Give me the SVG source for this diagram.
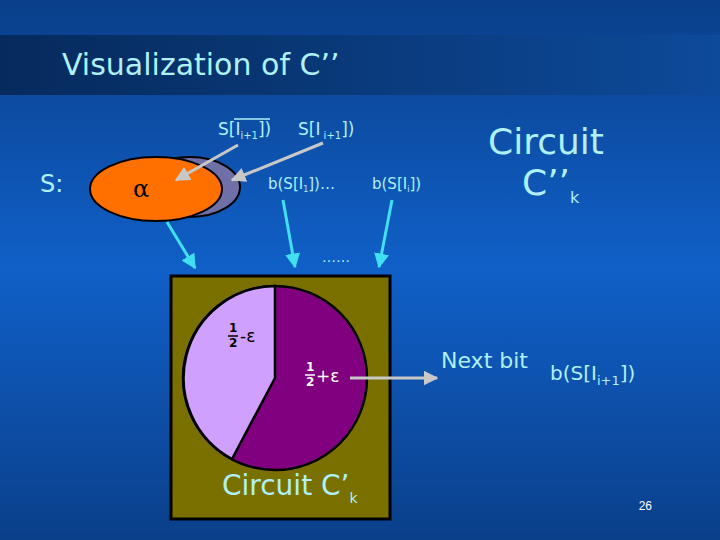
<svg xmlns="http://www.w3.org/2000/svg" width="720" height="540" viewBox="0 0 720 540">
<defs>
<linearGradient id="bg" x1="0" y1="0" x2="0" y2="1"><stop offset="0" stop-color="#0a3f8a"/><stop offset="0.5" stop-color="#1060c8"/><stop offset="1" stop-color="#0a3f8a"/></linearGradient>
<linearGradient id="tb" x1="0" y1="0" x2="1" y2="0"><stop offset="0" stop-color="#062a5c"/><stop offset="1" stop-color="#0d4a9a"/></linearGradient>
<marker id="ac" viewBox="0 0 10 10" refX="9" refY="5" markerWidth="5" markerHeight="5" orient="auto"><path d="M0,0L10,5L0,10z" fill="#40e0f0"/></marker>
<marker id="ag" viewBox="0 0 10 10" refX="9" refY="5" markerWidth="5" markerHeight="5" orient="auto"><path d="M0,0L10,5L0,10z" fill="#c8c8c8"/></marker>
<style>
.t{font-family:"Comic Sans MS","DejaVu Sans",sans-serif;fill:#b0f0f8}
.c{stroke:#40e0f0;stroke-width:3;marker-end:url(#ac)}
.g{stroke:#c8c8c8;stroke-width:3;marker-end:url(#ag)}
</style>
</defs>
<rect width="720" height="540" fill="url(#bg)"/>
<rect x="0" y="35" width="720" height="60" fill="url(#tb)"/>
<text x="62" y="75" class="t" font-size="30" fill="#c8f8ff">Visualization of C’’</text>
<g id="S">
<text x="40" y="192" class="t" font-size="24">S:</text>
<ellipse cx="190" cy="187" rx="50" ry="30" fill="#7070a8" stroke="#000" stroke-width="2"/>
<ellipse cx="156" cy="189" rx="66" ry="32" fill="#ff7000" stroke="#000" stroke-width="2"/>
<text x="133" y="197" font-family="DejaVu Serif,serif" font-size="24" fill="#000">α</text>
</g>
<g id="labels">
<text x="218" y="135" class="t" font-size="17">S[I<tspan font-size="10" dy="4">i+1</tspan><tspan dy="-4">])</tspan></text>
<line x1="234" y1="119" x2="270" y2="119" stroke="#b0f0f8" stroke-width="1.5"/>
<text x="298" y="135" class="t" font-size="17">S[I<tspan font-size="10" dy="4"> i+1</tspan><tspan dy="-4">])</tspan></text>
<text x="268" y="189" class="t" font-size="15">b(S[I<tspan font-size="8" dy="3">1</tspan><tspan dy="-3">])…</tspan></text>
<text x="372" y="189" class="t" font-size="15">b(S[I<tspan font-size="8" dy="3">i</tspan><tspan dy="-3">])</tspan></text>
<text x="322" y="262" class="t" font-size="14">……</text>
<text x="546" y="154" text-anchor="middle" class="t" font-size="36">Circuit</text>
<text x="522" y="195" class="t" font-size="36">C’’<tspan font-size="16" dy="8">k</tspan></text>
<text x="441" y="368" class="t" font-size="22">Next bit</text>
<text x="550" y="380" class="t" font-size="20">b(S[I<tspan font-size="13" dy="5">i+1</tspan><tspan dy="-5">])</tspan></text>
<text x="652" y="510" font-family="Liberation Sans,sans-serif" font-size="12" fill="#fff" text-anchor="end">26</text>
</g>
<g id="box">
<rect x="171" y="276" width="219" height="243" fill="#7a7000" stroke="#000" stroke-width="3"/>
<circle cx="275" cy="378" r="92" fill="#800080" stroke="#000" stroke-width="2.5"/>
<path d="M275,378L275,286A92,92 0 0 0 232,459Z" fill="#d0a0ff" stroke="#000" stroke-width="2.5"/>
<text x="229" y="332" font-family="DejaVu Sans,sans-serif" font-size="12" font-weight="bold" fill="#000">1</text>
<text x="229" y="347" font-family="DejaVu Sans,sans-serif" font-size="12" font-weight="bold" fill="#000">2</text>
<line x1="228" y1="336" x2="238" y2="336" stroke="#000" stroke-width="1.5"/>
<text x="240" y="342" font-family="DejaVu Sans,sans-serif" font-size="17" fill="#000">-ε</text>
<text x="306" y="371" font-family="DejaVu Sans,sans-serif" font-size="12" font-weight="bold" fill="#fff">1</text>
<text x="306" y="386" font-family="DejaVu Sans,sans-serif" font-size="12" font-weight="bold" fill="#fff">2</text>
<line x1="305" y1="375" x2="315" y2="375" stroke="#fff" stroke-width="1.5"/>
<text x="316" y="382" font-family="DejaVu Sans,sans-serif" font-size="17" fill="#fff">+ε</text>
<text x="222" y="495" class="t" font-size="28" fill="#80f0e0">Circuit C’<tspan font-size="14" dy="8">k</tspan></text>
</g>
<g id="connectors">
<line x1="238" y1="145" x2="176" y2="180" class="g"/>
<line x1="323" y1="143" x2="232" y2="180" class="g"/>
<line x1="167" y1="222" x2="195" y2="268" class="c"/>
<line x1="283" y1="200" x2="295" y2="267" class="c"/>
<line x1="392" y1="200" x2="379" y2="267" class="c"/>
<line x1="350" y1="378" x2="437" y2="378" class="g"/>
</g>
</svg>
